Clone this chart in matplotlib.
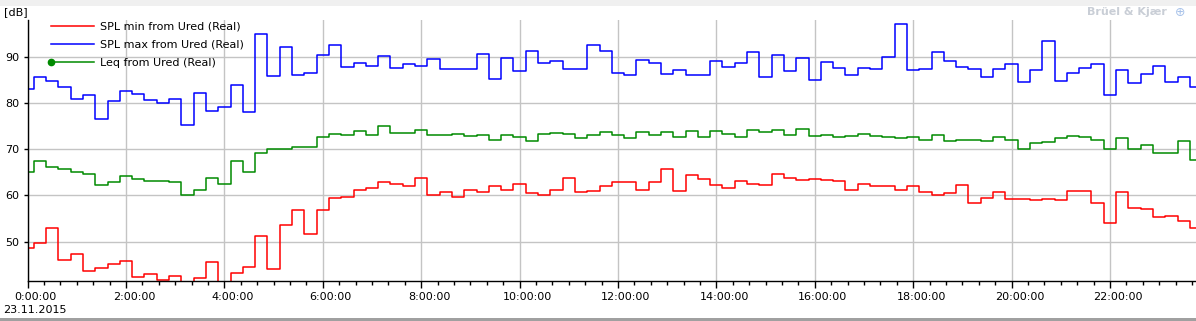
import numpy as np
import matplotlib
matplotlib.use("Agg")
import matplotlib.pyplot as plt
from matplotlib.lines import Line2D
from matplotlib.legend_handler import HandlerLine2D
from matplotlib.patches import Rectangle
from matplotlib.ticker import MultipleLocator, FuncFormatter
from matplotlib.transforms import ScaledTranslation

plt.rcParams['font.family'] = ['DejaVu Sans']

# 15 min samples from 0:00 to 23:45, values in dB
hours = np.arange(96) * 0.25

spl_max = [82.9, 85.5, 84.8, 83.5, 80.9, 81.6, 76.6, 80.3, 82.6, 82.0, 80.5, 80.0,
           80.9, 75.2, 82.2, 78.3, 79.0, 83.9, 77.9, 94.8, 85.7, 92.0, 85.9, 86.5,
           90.4, 92.6, 87.8, 88.7, 88.0, 90.2, 87.6, 88.3, 88.0, 89.4, 87.4, 87.4,
           87.4, 90.6, 85.2, 89.6, 86.8, 91.2, 88.7, 89.1, 87.4, 87.2, 92.6, 91.1,
           86.5, 86.1, 89.3, 88.5, 86.3, 87.0, 85.9, 86.1, 89.1, 87.8, 88.7, 90.9,
           85.5, 90.4, 86.8, 89.6, 85.0, 88.9, 87.6, 86.1, 87.6, 87.4, 90.0, 97.1,
           87.0, 87.4, 90.9, 89.1, 87.8, 87.2, 85.5, 87.4, 88.3, 84.4, 87.0, 93.3,
           84.8, 86.5, 87.6, 88.3, 81.6, 87.0, 84.2, 86.3, 88.0, 84.4, 85.5, 83.5]

leq = [65.1, 67.5, 66.2, 65.6, 65.1, 64.7, 62.3, 62.8, 64.1, 63.5, 63.0, 63.0,
       62.8, 60.0, 61.1, 63.8, 62.5, 67.5, 65.0, 69.1, 70.1, 70.1, 70.5, 70.5,
       72.5, 73.2, 73.0, 74.0, 73.0, 74.9, 73.4, 73.4, 74.2, 73.0, 73.0, 73.3,
       72.8, 73.0, 72.0, 73.0, 72.7, 71.8, 73.2, 73.4, 73.2, 72.3, 73.0, 73.6,
       73.0, 72.3, 73.6, 73.1, 73.6, 72.7, 73.8, 72.7, 74.0, 73.3, 72.7, 74.2,
       73.6, 74.2, 73.1, 74.4, 72.9, 73.1, 72.5, 72.9, 73.3, 72.9, 72.5, 72.3,
       72.5, 72.0, 73.0, 71.8, 72.0, 72.0, 71.8, 72.7, 72.0, 70.1, 71.4, 71.6,
       72.3, 72.9, 72.5, 72.0, 70.1, 72.3, 69.9, 70.8, 69.2, 69.2, 71.8, 67.7]

spl_min = [48.7, 49.6, 52.9, 46.1, 47.2, 43.7, 44.2, 45.1, 45.7, 42.4, 42.9, 41.6,
           42.6, 40.5, 42.2, 45.5, 40.0, 43.3, 44.4, 51.3, 44.0, 53.5, 56.9, 51.7,
           56.9, 59.5, 59.7, 61.1, 61.5, 62.8, 62.5, 62.1, 63.8, 60.0, 60.8, 59.7,
           61.2, 60.8, 61.9, 61.2, 62.5, 60.4, 60.1, 61.2, 63.8, 60.8, 61.0, 61.9,
           62.8, 62.8, 61.2, 62.8, 65.6, 61.0, 64.3, 63.6, 62.3, 61.5, 63.0, 62.5,
           62.3, 64.5, 63.8, 63.4, 63.6, 63.3, 63.0, 61.2, 62.5, 62.1, 62.1, 61.2,
           62.1, 60.8, 60.0, 60.6, 62.3, 58.4, 59.5, 60.8, 59.3, 59.1, 58.9, 59.1,
           58.9, 61.0, 61.0, 58.4, 54.1, 60.8, 57.3, 57.1, 55.2, 55.6, 54.5, 53.0]

labels = ['SPL min from Ured (Real)', 'SPL max from Ured (Real)', 'Leq from Ured (Real)']
colors = ['#ff0000', '#0000ff', '#008a00']


class LeftMarker(HandlerLine2D):
    # put the legend marker at the left end of the line
    def create_artists(self, *args, **kwargs):
        arts = super().create_artists(*args, **kwargs)
        for a in arts:
            a.set_markevery([0])
        return arts


fig = plt.figure(figsize=(11.96, 3.21), dpi=100)
ax = fig.add_axes([27.6 / 1196, 1 - 281.3 / 321, 1 - 27.6 / 1196, (281.3 - 20) / 321])

ax.step(hours, spl_min, where='mid', color=colors[0], lw=1.1)
ax.step(hours, spl_max, where='mid', color=colors[1], lw=1.1)
ax.step(hours, leq, where='mid', color=colors[2], lw=1.1)

ax.set_xlim(0, 23.75)
ax.set_ylim(41.4, 97.9)
ax.set_yticks([50, 60, 70, 80, 90])
ax.xaxis.set_major_locator(MultipleLocator(2))
ax.xaxis.set_minor_locator(MultipleLocator(1 / 3))
ax.xaxis.set_major_formatter(FuncFormatter(lambda v, p: '%d:00:00' % round(v)))
ax.grid(True, which='major', color='#c4c4c4', lw=1.0)
ax.set_axisbelow(True)

for s in ['top', 'right']:
    ax.spines[s].set_visible(False)
ax.spines['left'].set_linewidth(1.0)
ax.spines['bottom'].set_linewidth(1.0)
ax.tick_params(axis='x', which='major', length=5, width=1, labelsize=8, pad=3)
ax.tick_params(axis='x', which='minor', length=3, width=1)
ax.tick_params(axis='y', length=3, width=1, labelsize=8, pad=3)

# labels sit a little to the right of their tick
offset = ScaledTranslation(0.08, 0, fig.dpi_scale_trans)
for lab in ax.get_xticklabels():
    lab.set_transform(lab.get_transform() + offset)

h_min = Line2D([], [], color=colors[0], lw=1.1)
h_max = Line2D([], [], color=colors[1], lw=1.1)
h_leq = Line2D([], [], color=colors[2], lw=1.1, marker='o', ms=4.5)
ax.legend([h_min, h_max, h_leq], labels, loc='upper left', bbox_to_anchor=(0.016, 1.011),
          frameon=False, fontsize=8, handlelength=3.9, handletextpad=0.5,
          labelspacing=0.72, borderaxespad=0.0, handler_map={h_leq: LeftMarker()})

fig.text(4 / 1196, 1 - 12 / 321, '[dB]', fontsize=8, va='center', ha='left')
fig.text(3 / 1196, 1 - 310 / 321, '23.11.2015', fontsize=8, va='center', ha='left')
fig.text(1167 / 1196, 1 - 12 / 321, 'Brüel & Kjær', fontsize=8, fontweight='bold',
         color='#c9ced6', va='center', ha='right')
fig.text(1180 / 1196, 1 - 12 / 321, '\u2295', fontsize=9, color='#a9c3ea',
         va='center', ha='center')

fig.add_artist(Rectangle((0, 1 - 6 / 321), 1, 6 / 321, transform=fig.transFigure,
                         color='#f0f0f0', lw=0))
fig.add_artist(Rectangle((0, 0), 1, 3 / 321, transform=fig.transFigure,
                         color='#a0a0a0', lw=0))

fig.savefig('out.png', dpi=100)
